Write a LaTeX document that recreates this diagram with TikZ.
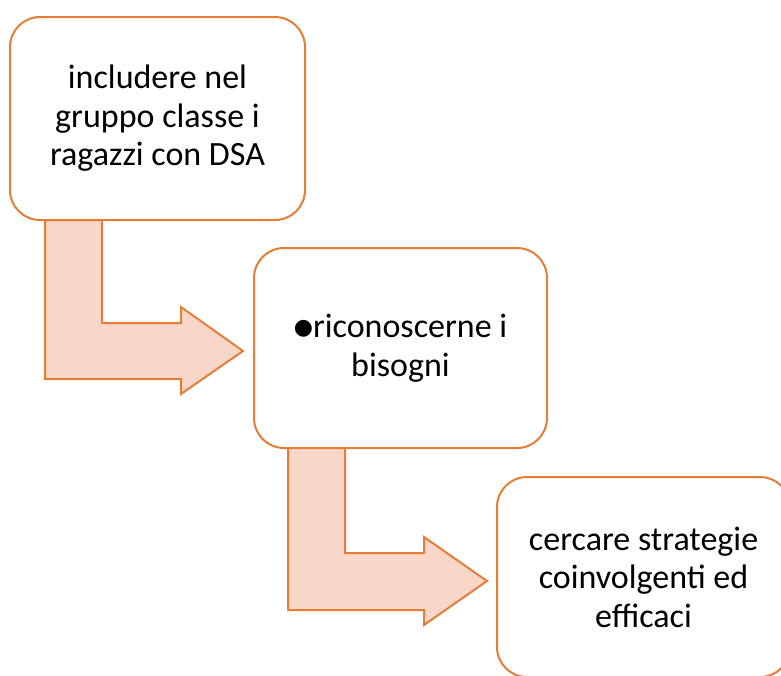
\documentclass[tikz,border=0pt]{standalone}
\usepackage{fontspec}
\setmainfont{Carlito}
\newfontfamily\symfont{DejaVu Sans}
\definecolor{accent}{RGB}{230,125,55}
\definecolor{arrowfill}{RGB}{248,214,200}
\begin{document}
\begin{tikzpicture}[x=1pt,y=-1pt,
  stepbox/.style={draw=accent, line width=2pt, fill=white, rounded corners=30pt,
    align=center, inner sep=0pt, font=\fontsize{34}{38.5}\selectfont},
  bentarrow/.style={draw=accent, line width=2pt, fill=arrowfill, line join=miter}]
\useasboundingbox (0,0) rectangle (781,675);
\clip (0,0) rectangle (781,675);
% bent arrows
\draw[bentarrow] (45,212) -- (102,212) -- (102,323) -- (181,323) -- (181,307)
  -- (243,351) -- (181,394) -- (181,379) -- (45,379) -- cycle;
\draw[bentarrow] (288,440) -- (345,440) -- (345,553) -- (424,553) -- (424,537)
  -- (487,581) -- (424,625) -- (424,610) -- (288,610) -- cycle;
% boxes
\node[stepbox, minimum width=295pt, minimum height=203pt] (b1) at (157.5,118.5)
  {includere nel\\gruppo classe i\\ragazzi con DSA};
\node[stepbox, minimum width=293pt, minimum height=200pt] (b2) at (400.5,348)
  {\raisebox{3pt}{\symfont\fontsize{22}{24}\selectfont ●}riconoscerne i\\bisogni};
\node[stepbox, minimum width=293pt, minimum height=200pt] (b3) at (643.5,577)
  {cercare strategie\\coinvolgenti ed\\efficaci};
\end{tikzpicture}
\end{document}
